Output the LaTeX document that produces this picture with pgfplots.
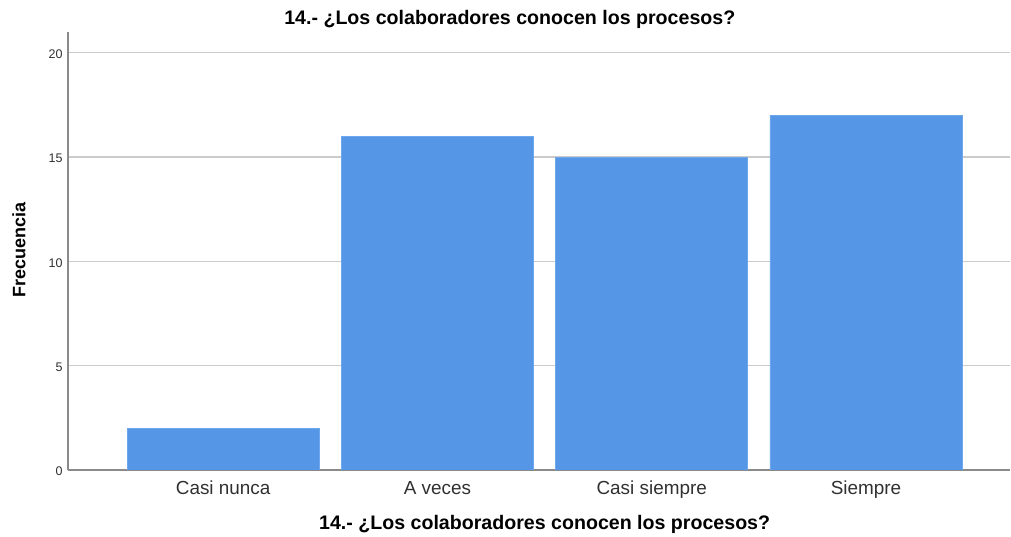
\documentclass[border=0pt]{standalone}
\usepackage{fontspec}
\setmainfont{Liberation Sans}
\usepackage{pgfplots}
\pgfplotsset{compat=1.18}
\definecolor{barfill}{HTML}{5596E6}
\definecolor{baredge}{HTML}{6FA7EC}
\definecolor{gridc}{HTML}{CBCBCB}
\definecolor{axisc}{HTML}{8A8A8A}
\definecolor{txt}{HTML}{303030}
\begin{document}
\begin{tikzpicture}
\begin{axis}[
  scale only axis,
  width=942pt, height=438pt,
  xmin=-0.724, xmax=3.672,
  ymin=0, ymax=21,
  axis x line*=bottom, axis y line*=left,
  axis line style={axisc, line width=1.3pt, -},
  xtick={0,1,2,3},
  xticklabels={Casi nunca, A veces, Casi siempre, Siempre},
  ytick={0,5,10,15,20},
  major tick length=0pt,
  ymajorgrids,
  grid style={gridc, line width=1.3pt},
  /pgf/number format/assume math mode=true,
  xticklabel style={font=\fontsize{18.9}{20}\selectfont, text=txt, anchor=base, yshift=-25pt},
  yticklabel style={font=\fontsize{12.5}{14}\selectfont, text=txt, anchor=east, xshift=-2pt, yshift=-1.5pt},
  title={\textbf{14.- ¿Los colaboradores conocen los procesos?}},
  title style={font=\fontsize{19.6}{21}\selectfont, at={(rel axis cs:0.469,1)}, anchor=base, yshift=1pt},
  xlabel={\textbf{14.- ¿Los colaboradores conocen los procesos?}},
  xlabel style={font=\fontsize{19.6}{21}\selectfont, at={(rel axis cs:0.506,0)}, anchor=base, yshift=-60pt},
  ylabel={\textbf{Frecuencia}},
  ylabel style={font=\fontsize{18}{19}\selectfont, at={(rel axis cs:0,0.502)}, anchor=center, yshift=49pt},
]
\addplot[ybar, bar width=0.897, fill=barfill, draw=baredge, line width=0.8pt] coordinates {(0,2) (1,16) (2,15) (3,17)};
\end{axis}
\pgfresetboundingbox
\path (current axis.south west) ++(-68pt,-67pt) rectangle ++(1011pt,537pt);
\end{tikzpicture}
\end{document}
